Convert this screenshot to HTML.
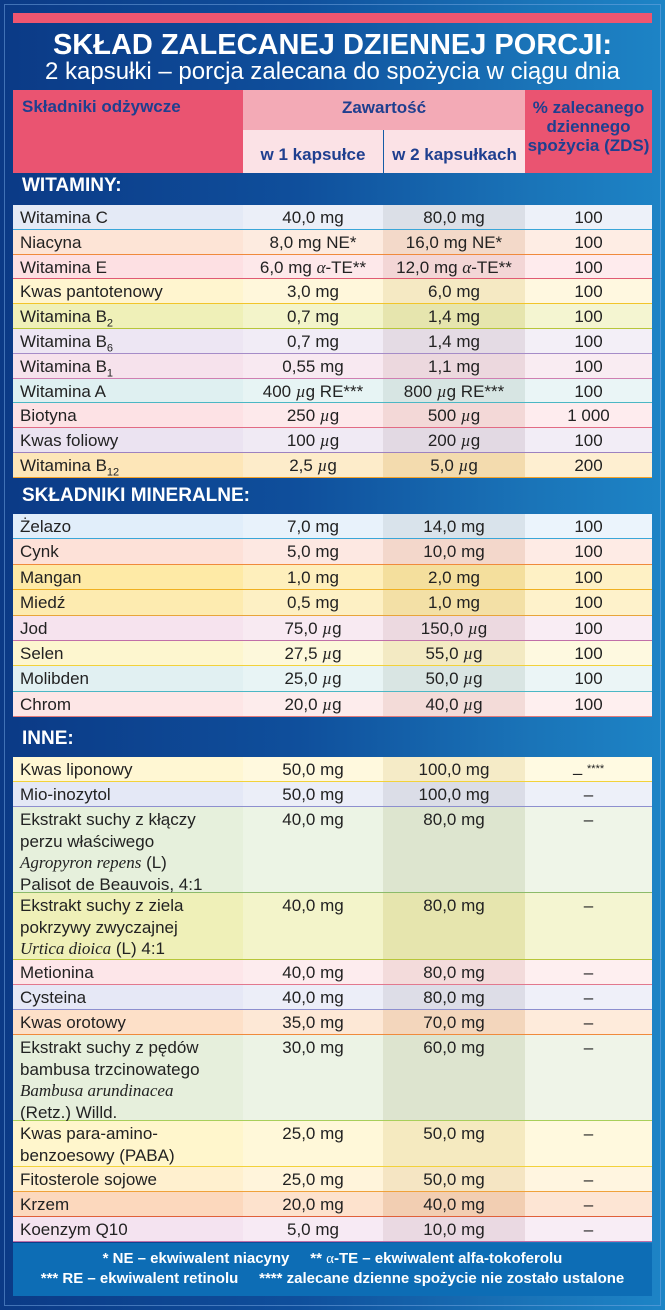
<!DOCTYPE html>
<html><head><meta charset="utf-8">
<style>
*{margin:0;padding:0;box-sizing:border-box}
body{width:665px;height:1310px;overflow:hidden;font-family:"Liberation Sans Narrow","Liberation Sans",sans-serif;}
#bg{position:absolute;left:0;top:0;width:665px;height:1310px;background:linear-gradient(90deg,#0b3a86 0%,#0f4f9c 45%,#1a74b8 80%,#1d84c6 100%);}
#frame{position:absolute;left:4px;top:4px;width:657px;height:1302px;border:1px solid rgba(120,170,230,.5)}
.abs{position:absolute}
.row{position:absolute;left:13px;width:639px;font-size:17px;color:#222;}
.c{position:absolute;top:0;bottom:0;padding-top:2px;line-height:21.5px}
.c0{left:0;width:230px;padding-left:7px}
.c1{left:230px;width:140px;text-align:center}
.c2{left:370px;width:142px;text-align:center;background:rgba(110,90,40,.07)}
.c3{left:512px;width:127px;text-align:center;background:rgba(255,255,255,.35)}
.c1{background:rgba(255,255,255,.25)}
.sec{position:absolute;left:22px;color:#fff;font-weight:bold;font-size:19px;}
i.l{font-family:"Liberation Serif",serif;font-style:italic}
.hd{position:absolute;color:#1f3f8f;font-weight:bold;font-size:17px;text-align:center;line-height:19px}
</style></head>
<body>
<div id="bg"></div>
<div id="frame"></div>
<div class="abs" style="left:13px;top:13px;width:639px;height:10px;background:#ee5670"></div>
<div class="abs" style="left:0;top:29px;width:665px;text-align:center;color:#fff;font-weight:bold;font-size:29px;line-height:32px">SKŁAD ZALECANEJ DZIENNEJ PORCJI:</div>
<div class="abs" style="left:0;top:58px;width:665px;text-align:center;color:#fff;font-size:24px;line-height:28px">2 kapsułki – porcja zalecana do spożycia w ciągu dnia</div>

<div class="abs" style="left:13px;top:90px;width:230px;height:83px;background:#ea5471"></div>
<div class="hd" style="left:22px;top:97px;text-align:left">Składniki odżywcze</div>
<div class="abs" style="left:243px;top:90px;width:282px;height:40px;background:#f3aab6"></div>
<div class="hd" style="left:243px;top:98px;width:282px">Zawartość</div>
<div class="abs" style="left:243px;top:130px;width:140px;height:43px;background:#fbe2e6"></div>
<div class="abs" style="left:384px;top:130px;width:141px;height:43px;background:#fbe2e6"></div>
<div class="hd" style="left:243px;top:145px;width:140px">w 1 kapsułce</div>
<div class="hd" style="left:384px;top:145px;width:141px">w 2 kapsułkach</div>
<div class="abs" style="left:525px;top:90px;width:127px;height:83px;background:#ea5471"></div>
<div class="hd" style="left:525px;top:98px;width:127px">% zalecanego dziennego spożycia (ZDS)</div>

<div class="sec" style="top:175px">WITAMINY:</div>
<div class="sec" style="top:485px">SKŁADNIKI MINERALNE:</div>
<div class="sec" style="top:728px">INNE:</div>

<div id="rows"></div>

<div class="abs" style="left:13px;top:1243px;width:639px;height:53px;background:#0d6db5"></div>
<div class="abs" style="left:13px;top:1249px;width:639px;text-align:center;color:#fff;font-weight:bold;font-size:15px;line-height:20px">* NE – ekwiwalent niacyny &nbsp;&nbsp;&nbsp; ** <span style="font-family:'Liberation Serif',serif;font-weight:normal">α</span>-TE – ekwiwalent alfa-tokoferolu</div>
<div class="abs" style="left:13px;top:1269px;width:639px;text-align:center;color:#fff;font-weight:bold;font-size:15px;line-height:20px">*** RE – ekwiwalent retinolu &nbsp;&nbsp;&nbsp; **** zalecane dzienne spożycie nie zostało ustalone</div>

<script>
var mu='<i class="l">µ</i>g';
var names=['Witamina C','Niacyna','Witamina E','Kwas pantotenowy','Witamina B<sub style="font-size:11px">2</sub>','Witamina B<sub style="font-size:11px">6</sub>','Witamina B<sub style="font-size:11px">1</sub>','Witamina A','Biotyna','Kwas foliowy','Witamina B<sub style="font-size:11px">12</sub>',
'Żelazo','Cynk','Mangan','Miedź','Jod','Selen','Molibden','Chrom',
'Kwas liponowy','Mio-inozytol','Ekstrakt suchy z kłączy<br>perzu właściwego<br><i class="l">Agropyron repens</i> (L)<br>Palisot de Beauvois, 4:1','Ekstrakt suchy z ziela<br>pokrzywy zwyczajnej<br><i class="l">Urtica dioica</i> (L) 4:1','Metionina','Cysteina','Kwas orotowy','Ekstrakt suchy z pędów<br>bambusa trzcinowatego<br><i class="l">Bambusa arundinacea</i><br>(Retz.) Willd.','Kwas para-amino-<br>benzoesowy (PABA)','Fitosterole sojowe','Krzem','Koenzym Q10'];
var per1=['40,0 mg','8,0 mg NE*','6,0 mg <i class="l">α</i>-TE**','3,0 mg','0,7 mg','0,7 mg','0,55 mg','400 '+mu+' RE***','250 '+mu,'100 '+mu,'2,5 '+mu,
'7,0 mg','5,0 mg','1,0 mg','0,5 mg','75,0 '+mu,'27,5 '+mu,'25,0 '+mu,'20,0 '+mu,
'50,0 mg','50,0 mg','40,0 mg','40,0 mg','40,0 mg','40,0 mg','35,0 mg','30,0 mg','25,0 mg','25,0 mg','20,0 mg','5,0 mg'];
var per2=['80,0 mg','16,0 mg NE*','12,0 mg <i class="l">α</i>-TE**','6,0 mg','1,4 mg','1,4 mg','1,1 mg','800 '+mu+' RE***','500 '+mu,'200 '+mu,'5,0 '+mu,
'14,0 mg','10,0 mg','2,0 mg','1,0 mg','150,0 '+mu,'55,0 '+mu,'50,0 '+mu,'40,0 '+mu,
'100,0 mg','100,0 mg','80,0 mg','80,0 mg','80,0 mg','80,0 mg','70,0 mg','60,0 mg','50,0 mg','50,0 mg','40,0 mg','10,0 mg'];
var zds=['100','100','100','100','100','100','100','100','1 000','100','200',
'100','100','100','100','100','100','100','100',
'– <sup style="font-size:11px">****</sup>','–','–','–','–','–','–','–','–','–','–','–'];
var lines=[1,1,1,1,1,1,1,1,1,1,1, 1,1,1,1,1,1,1,1, 1,1,4,3,1,1,1,4,2,1,1,1];
var bgs=['#e4eaf6','#fde4d6','#fde0e3','#fff5cf','#eff0b8','#ede6f3','#f6e2ec','#dff0f1','#fde2e5','#ebe3f1','#fde6b8',
'#e1eefa','#fde1d8','#feeaa6','#fdebb0','#f6e3ee','#fdf6cf','#e1f0f2','#fde6e6',
'#fff7d3','#e4e8f6','#e6f0dc','#eff0b8','#fde6e9','#e6e8f6','#fde0c8','#e6efdc','#fff6cc','#fff0cf','#fcd8bd','#f4e3f0'];
var lc=['#3aa6d8','#f08a3c','#e05a74','#f2c52a','#b7c63a','#a58cc8','#cf7fb2','#4bb7c4','#e26b84','#9d82c0','#f2a22a',
'#3aa6d8','#f08a3c','#f0b020','#e8a53a','#c06fa8','#f2d23a','#4bb7c4','#e07a7a',
'#f2d23a','#8d8fcf','#8cbb6a','#b7c63a','#e2788e','#8d8fcf','#f08a3c','#a8cf5a','#f2d23a','#f0a23a','#e0603a','#c06fa8'];
var starts={0:205,11:514,19:757};
var rh1=[24.8,24.8,24.8,24.8,24.8,24.8,24.8,24.8,24.8,24.8,24.8, 25.4,25.4,25.4,25.4,25.4,25.4,25.4,25.4];
var host=document.getElementById('rows');
var y=0;
for(var i=0;i<names.length;i++){
  if(starts[i]!==undefined) y=starts[i];
  var h=i<19?rh1[i]:(lines[i]==1?25:lines[i]==4?86:lines[i]==3?67:46);
  var r=document.createElement('div');
  
  
  r.className='row';
  r.style.top=y+'px';r.style.height=h+'px';
  r.style.background=bgs[i];
  r.style.borderBottom='1.5px solid '+lc[i];
  var vals=[names[i],per1[i],per2[i],zds[i]];
  var cn=['name','per-1-capsule','per-2-capsules','zds'];
  for(var k=0;k<4;k++){
    var c=document.createElement('div');
    
    
    c.className='c c'+k;
    c.innerHTML=vals[k];
    r.appendChild(c);
  }
  host.appendChild(r);
  y+=h;
}
</script>
</body></html>
